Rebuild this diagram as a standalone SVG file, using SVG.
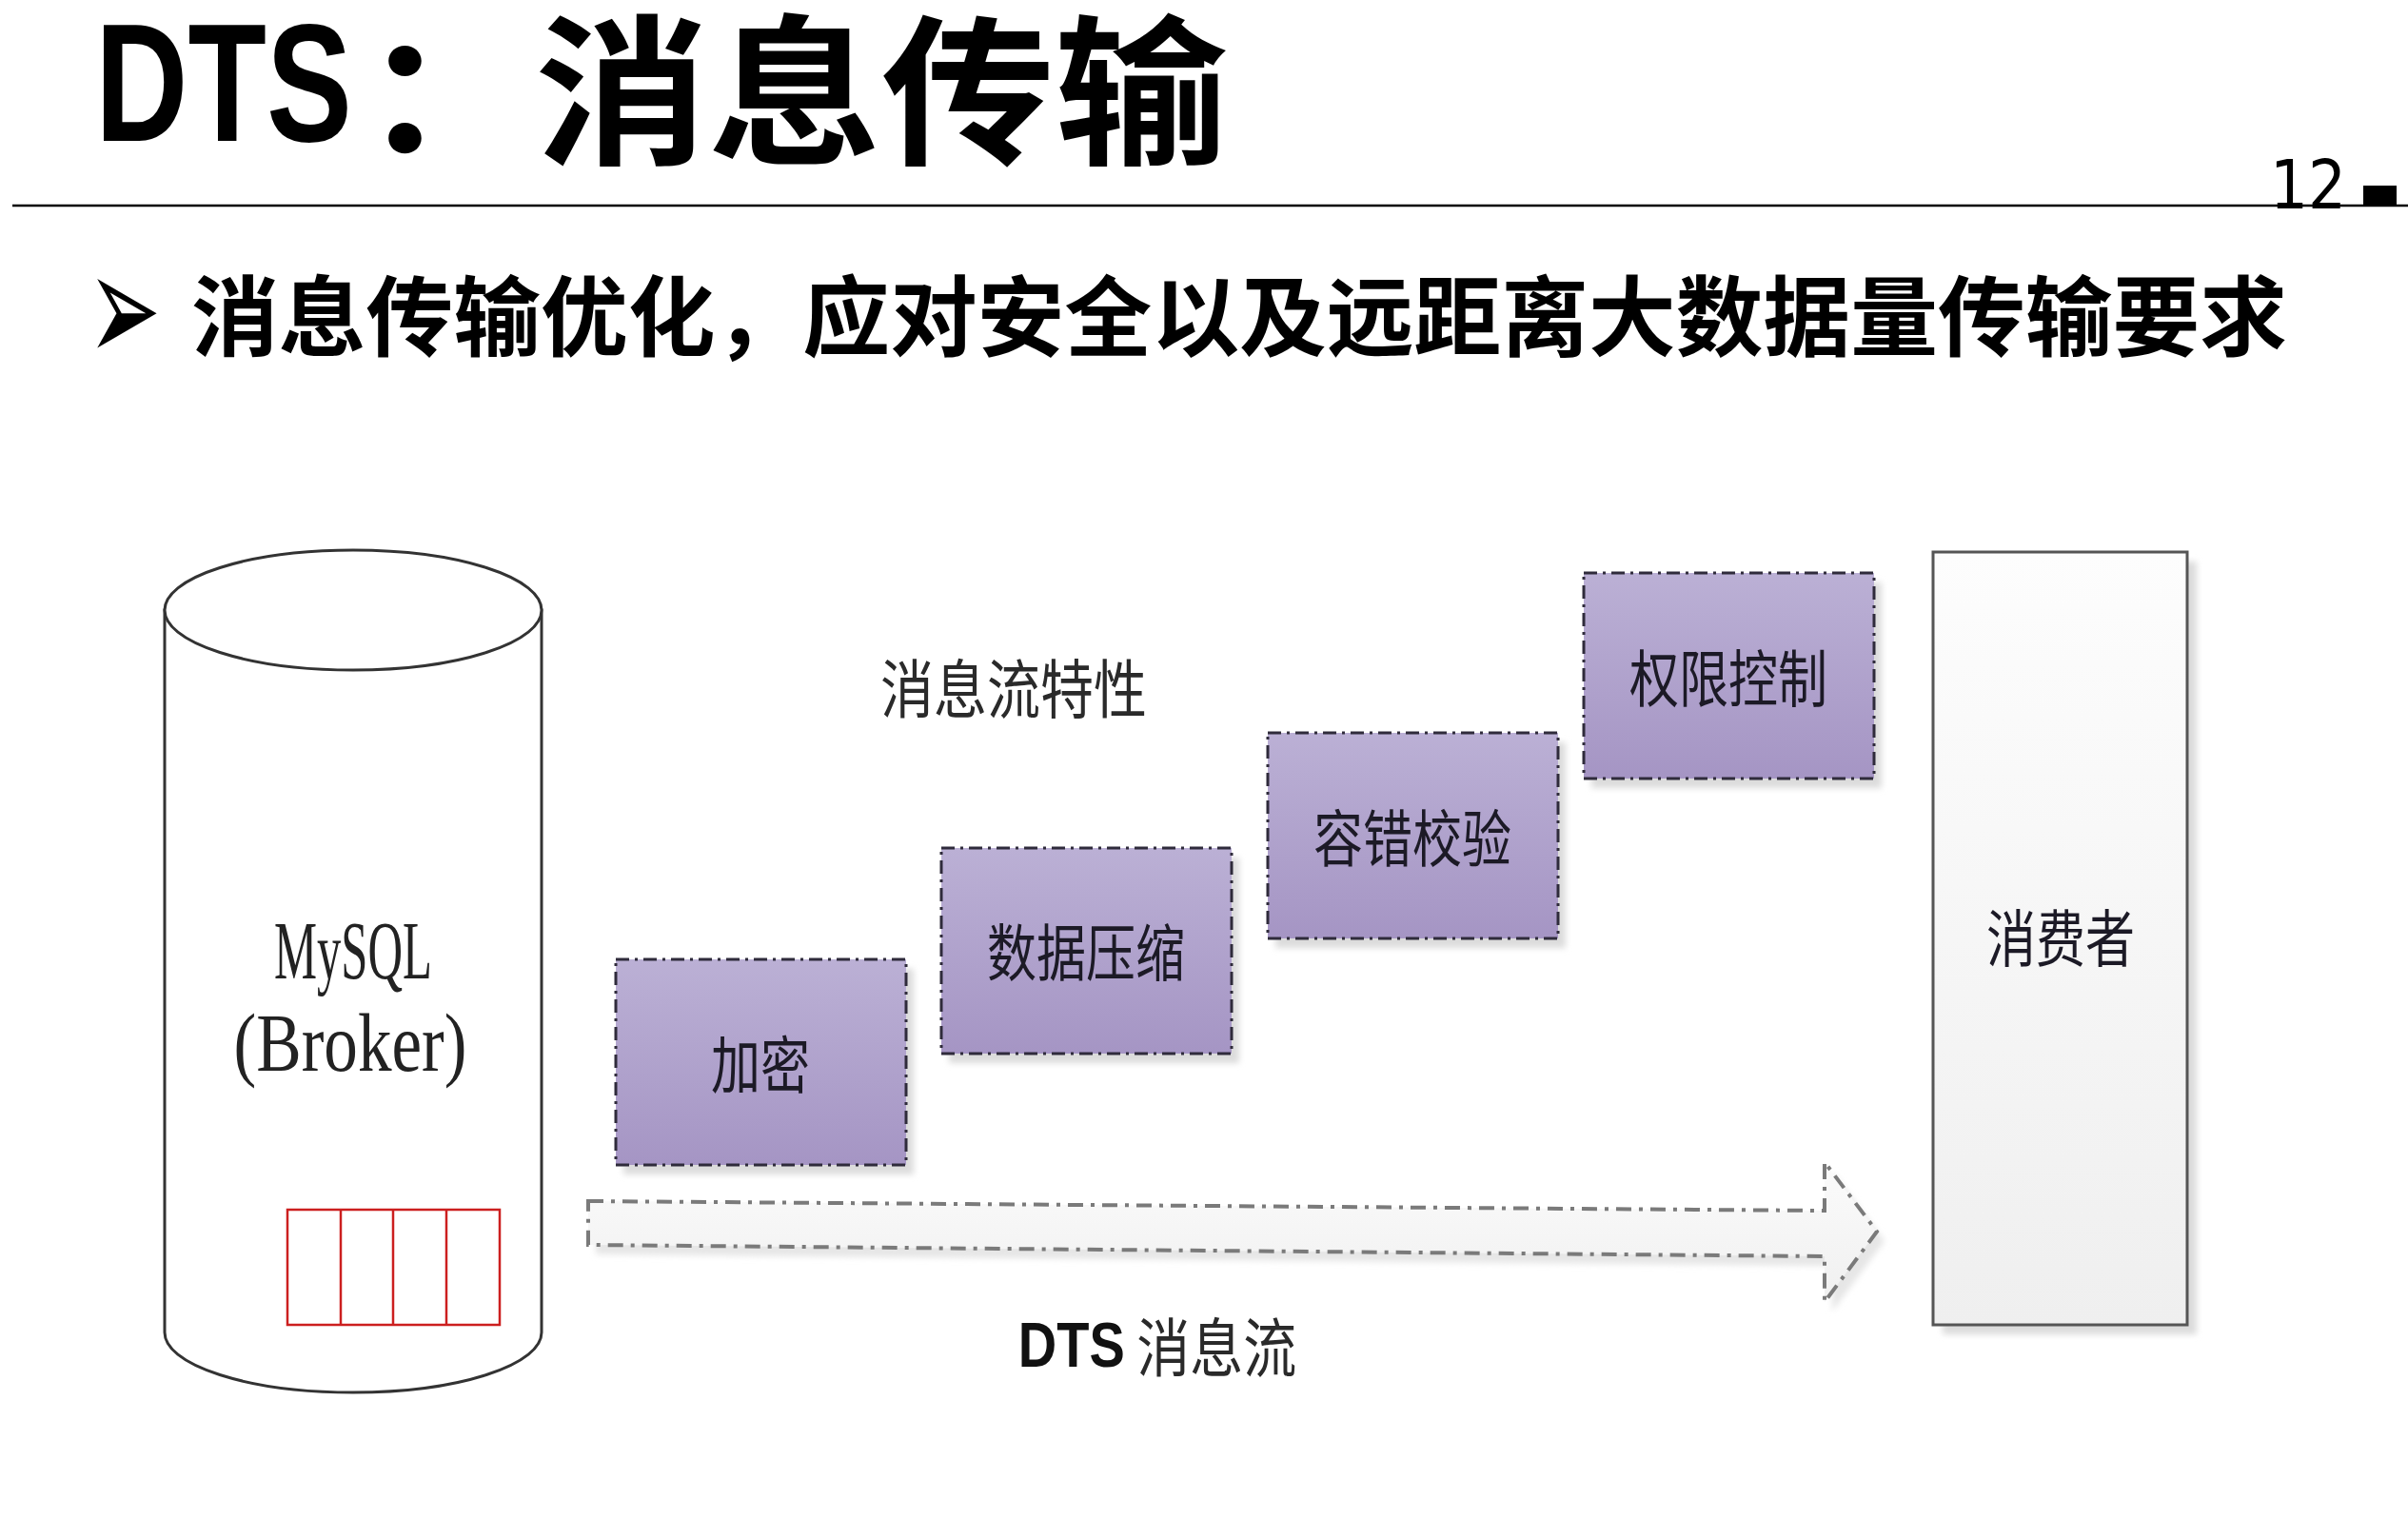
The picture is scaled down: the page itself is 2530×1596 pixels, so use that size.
<svg xmlns="http://www.w3.org/2000/svg" width="2530" height="1596" viewBox="0 0 2530 1596">
  <defs>
    <linearGradient id="purple" x1="0" y1="0" x2="0" y2="1">
      <stop offset="0" stop-color="#bbb0d5"/>
      <stop offset="1" stop-color="#a595c4"/>
    </linearGradient>
    <linearGradient id="light" x1="0" y1="0" x2="0" y2="1">
      <stop offset="0" stop-color="#fdfdfd"/>
      <stop offset="1" stop-color="#efefef"/>
    </linearGradient>
    <linearGradient id="arrowfill" x1="0" y1="0" x2="0" y2="1">
      <stop offset="0" stop-color="#fbfbfb"/>
      <stop offset="1" stop-color="#f0f0f0"/>
    </linearGradient>
    <filter id="blur" x="-10%" y="-10%" width="120%" height="120%">
      <feGaussianBlur stdDeviation="3"/>
    </filter>
  </defs>
  <style>
    .title-latin { font-family: "Liberation Sans", Arial, sans-serif; font-weight: bold; fill: #000; }
    .title-cjk { font-family: "Noto Sans CJK SC", sans-serif; font-weight: bold; fill: #000; }
    .bullet { font-family: "Noto Sans CJK SC", sans-serif; font-weight: bold; fill: #000; }
    .box { fill: url(#purple); stroke: #2f2b3b; stroke-width: 3; stroke-dasharray: 14 6 3 6; }
    .shadow { fill: #dcdcdc; filter: url(#blur); }
    .boxtext { font-family: "Noto Sans CJK SC", sans-serif; font-size: 52px; fill: #1c1a26; text-anchor: middle; dominant-baseline: central; }
    .serif { font-family: "Liberation Serif", "Times New Roman", serif; font-size: 86px; fill: #222; text-anchor: middle; }
    .label { font-family: "Noto Sans CJK SC", sans-serif; font-size: 56px; fill: #2a2a2a; text-anchor: middle; dominant-baseline: central; }
  </style>

  <rect width="2530" height="1596" fill="#ffffff"/>

  <g id="header">
    <text class="title-latin" x="100" y="148" font-size="176" textLength="270" lengthAdjust="spacingAndGlyphs">DTS</text>
    <text class="title-cjk" x="380" y="160" font-size="170" textLength="910" lengthAdjust="spacingAndGlyphs">：消息传输</text>
    <line x1="13" y1="216" x2="2530" y2="216" stroke="#000" stroke-width="2.5"/>
    <text x="2385" y="219" font-family="DejaVu Sans, sans-serif" font-size="72" fill="#000" textLength="80" lengthAdjust="spacingAndGlyphs">12</text>
    <rect x="2483" y="195" width="35" height="21" fill="#000"/>
  </g>

  <g id="bullet">
    <text transform="translate(92,381) scale(0.92,1.65)" x="0" y="0" font-family="DejaVu Sans, sans-serif" font-size="100" fill="#000">➢</text>
    <text class="bullet" x="201" y="367" font-size="92" textLength="2202" lengthAdjust="spacingAndGlyphs">消息传输优化，应对安全以及远距离大数据量传输要求</text>
  </g>

  <g id="connectors">
    <polygon points="626,1272 1925,1282 1925,1231 1980,1304 1925,1378 1925,1330 626,1318" fill="#e6e6e6" filter="url(#blur)"/>
    <polygon points="618,1262 1917,1272 1917,1221 1972,1294 1917,1368 1917,1320 618,1308" fill="url(#arrowfill)" stroke="#7a7a7a" stroke-width="4" stroke-dasharray="16 8 4 8"/>
    <text class="label" transform="translate(1216,1412) scale(1,1.2)"><tspan font-family="Liberation Sans, Arial, sans-serif" font-weight="bold" fill="#111">DTS</tspan> 消息流</text>
  </g>

  <g id="mysql-broker">
    <path d="M173,641 L173,1400 A198,63 0 0 0 569,1400 L569,641 Z" fill="#ffffff" stroke="#333" stroke-width="3"/>
    <ellipse cx="371" cy="641" rx="198" ry="63" fill="#ffffff" stroke="#333" stroke-width="3"/>
    <text class="serif" x="371" y="1028" textLength="166" lengthAdjust="spacingAndGlyphs">MySQL</text>
    <text class="serif" x="368" y="1125" textLength="245" lengthAdjust="spacingAndGlyphs">(Broker)</text>
    <g id="queue" fill="none" stroke="#cc1f1f" stroke-width="2.5">
      <rect x="302" y="1271" width="223" height="121"/>
      <line x1="358" y1="1271" x2="358" y2="1392"/>
      <line x1="413" y1="1271" x2="413" y2="1392"/>
      <line x1="469" y1="1271" x2="469" y2="1392"/>
    </g>
  </g>

  <g id="feature-title">
    <text class="label" transform="translate(1065,720) scale(1,1.2)" font-size="58">消息流特性</text>
  </g>

  <g id="encrypt">
    <rect class="shadow" x="655" y="1018" width="305" height="216"/>
    <rect class="box" x="647" y="1008" width="305" height="216"/>
    <text class="boxtext" transform="translate(799,1115) scale(1,1.25)">加密</text>
  </g>

  <g id="compress">
    <rect class="shadow" x="997" y="901" width="305" height="216"/>
    <rect class="box" x="989" y="891" width="305" height="216"/>
    <text class="boxtext" transform="translate(1141,997) scale(1,1.25)">数据压缩</text>
  </g>

  <g id="checksum">
    <rect class="shadow" x="1340" y="780" width="305" height="216"/>
    <rect class="box" x="1332" y="770" width="305" height="216"/>
    <text class="boxtext" transform="translate(1484,877) scale(1,1.25)">容错校验</text>
  </g>

  <g id="access-control">
    <rect class="shadow" x="1672" y="612" width="305" height="216"/>
    <rect class="box" x="1664" y="602" width="305" height="216"/>
    <text class="boxtext" transform="translate(1816,709) scale(1,1.25)">权限控制</text>
  </g>

  <g id="consumer">
    <rect class="shadow" x="2041" y="590" width="267" height="812"/>
    <rect x="2031" y="580" width="267" height="812" fill="url(#light)" stroke="#555" stroke-width="3"/>
    <text class="boxtext" transform="translate(2165,982) scale(1,1.25)">消费者</text>
  </g>
</svg>
